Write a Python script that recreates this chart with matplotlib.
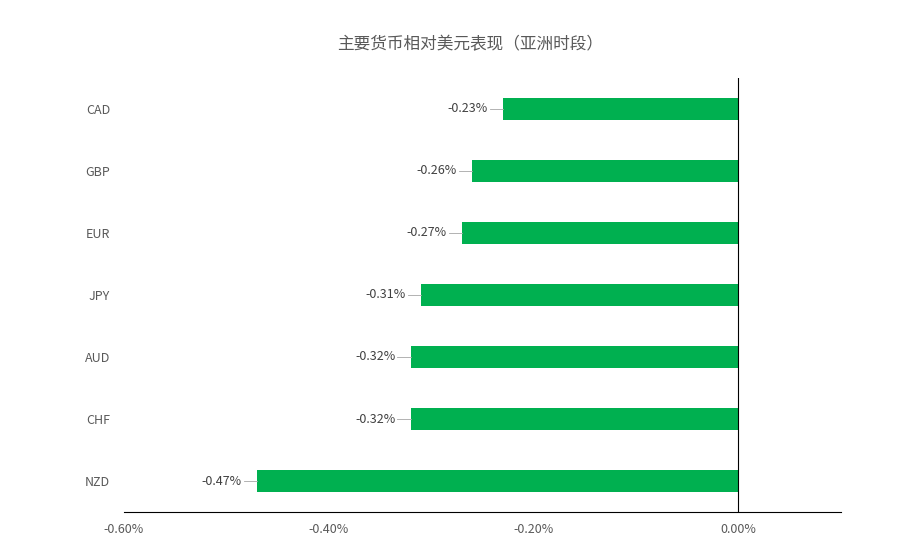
import matplotlib
matplotlib.use("Agg")
import matplotlib.pyplot as plt

plt.rcParams['font.family'] = ['Noto Sans CJK SC', 'DejaVu Sans']

currencies = ["CAD", "GBP", "EUR", "JPY", "AUD", "CHF", "NZD"]
values = [-0.23, -0.26, -0.27, -0.31, -0.32, -0.32, -0.47]
xticks = [-0.6, -0.4, -0.2, 0.0]
xticklabels = ["-0.60%", "-0.40%", "-0.20%", "0.00%"]
title = "主要货币相对美元表现（亚洲时段）"

fig = plt.figure(figsize=(9.05, 5.56), dpi=100)
ax = fig.add_axes([0.137, 0.079, 0.792, 0.781])
ypos = list(range(len(currencies)))[::-1]
ax.barh(ypos, values, height=0.35, color="#00B050")
ax.set_xlim(-0.6, 0.1)
ax.set_ylim(-0.5, 6.5)
ax.set_xticks(xticks)
ax.set_xticklabels(xticklabels, color="#595959", fontsize=9)
ax.set_yticks(ypos)
ax.set_yticklabels(currencies, color="#595959", fontsize=9)
ax.tick_params(axis='y', length=0, pad=10)
ax.tick_params(axis='x', length=0, pad=8)
for s in ["top", "right", "left"]:
    ax.spines[s].set_visible(False)
ax.spines["bottom"].set_color("#000000")
ax.spines["bottom"].set_linewidth(0.8)
ax.axvline(0, color="#000000", linewidth=0.8)
for y, v in zip(ypos, values):
    ax.plot([v - 0.013, v], [y, y], color="#A6A6A6", linewidth=0.6)
    ax.text(v - 0.015, y, f"{v:.2f}%", ha="right", va="center", fontsize=9, color="#404040")
fig.suptitle(title, x=0.52, y=0.935, fontsize=12, color="#595959")
fig.savefig("out.png", dpi=100)
